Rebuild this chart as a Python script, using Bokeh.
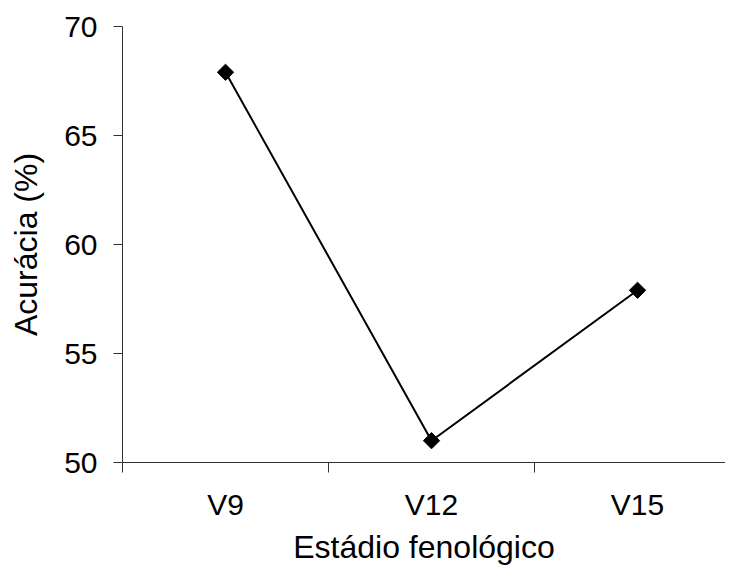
from bokeh.plotting import figure
from bokeh.models import Range1d, FixedTicker, ColumnDataSource
from bokeh.embed import file_html
from bokeh.resources import INLINE
import math

stages = ["V9", "V12", "V15"]
accuracy = [67.9, 51.0, 57.9]
y_ticks = [50, 55, 60, 65, 70]

xs = list(range(len(stages)))
src = ColumnDataSource(data=dict(x=xs, y=accuracy))

FONT = "Liberation Sans"

p = figure(width=725, height=567, output_backend="svg", toolbar_location=None,
           x_range=Range1d(-0.5, 2.427), y_range=Range1d(50, 70),
           min_border_left=122, min_border_right=0, min_border_top=26, min_border_bottom=105)
p.outline_line_color = None
p.grid.grid_line_color = None
p.background_fill_color = "white"
p.border_fill_color = "white"

p.line("x", "y", source=src, line_color="black", line_width=2)
p.scatter("x", "y", source=src, marker="square", size=11.5, angle=math.pi / 4,
          fill_color="black", line_color="black")

# x axis
xa = p.xaxis[0]
xa.ticker = FixedTicker(ticks=xs, minor_ticks=[i - 0.5 for i in range(len(stages) + 1)])
xa.major_label_overrides = {i: s for i, s in enumerate(stages)}
xa.major_tick_line_color = None
xa.minor_tick_out = 10
xa.minor_tick_in = 0
xa.minor_tick_line_color = "#333333"
xa.axis_line_color = "#333333"
xa.major_label_text_font = FONT
xa.major_label_text_font_size = "30px"
xa.major_label_text_color = "black"
xa.major_label_standoff = 15
xa.axis_label = "Estádio fenológico"
xa.axis_label_text_font = FONT
xa.axis_label_text_font_size = "32px"
xa.axis_label_text_font_style = "normal"
xa.axis_label_text_color = "black"
xa.axis_label_standoff = 5

# y axis
ya = p.yaxis[0]
ya.ticker = FixedTicker(ticks=y_ticks)
ya.major_tick_out = 9
ya.major_tick_in = 0
ya.major_tick_line_color = "#333333"
ya.minor_tick_line_color = None
ya.axis_line_color = "#333333"
ya.major_label_text_font = FONT
ya.major_label_text_font_size = "30px"
ya.major_label_text_color = "black"
ya.major_label_standoff = 16
ya.axis_label = "Acurácia (%)"
ya.axis_label_text_font = FONT
ya.axis_label_text_font_size = "32px"
ya.axis_label_text_font_style = "normal"
ya.axis_label_text_color = "black"
ya.axis_label_standoff = 17

open("out.html", "w").write(file_html(p, INLINE))
